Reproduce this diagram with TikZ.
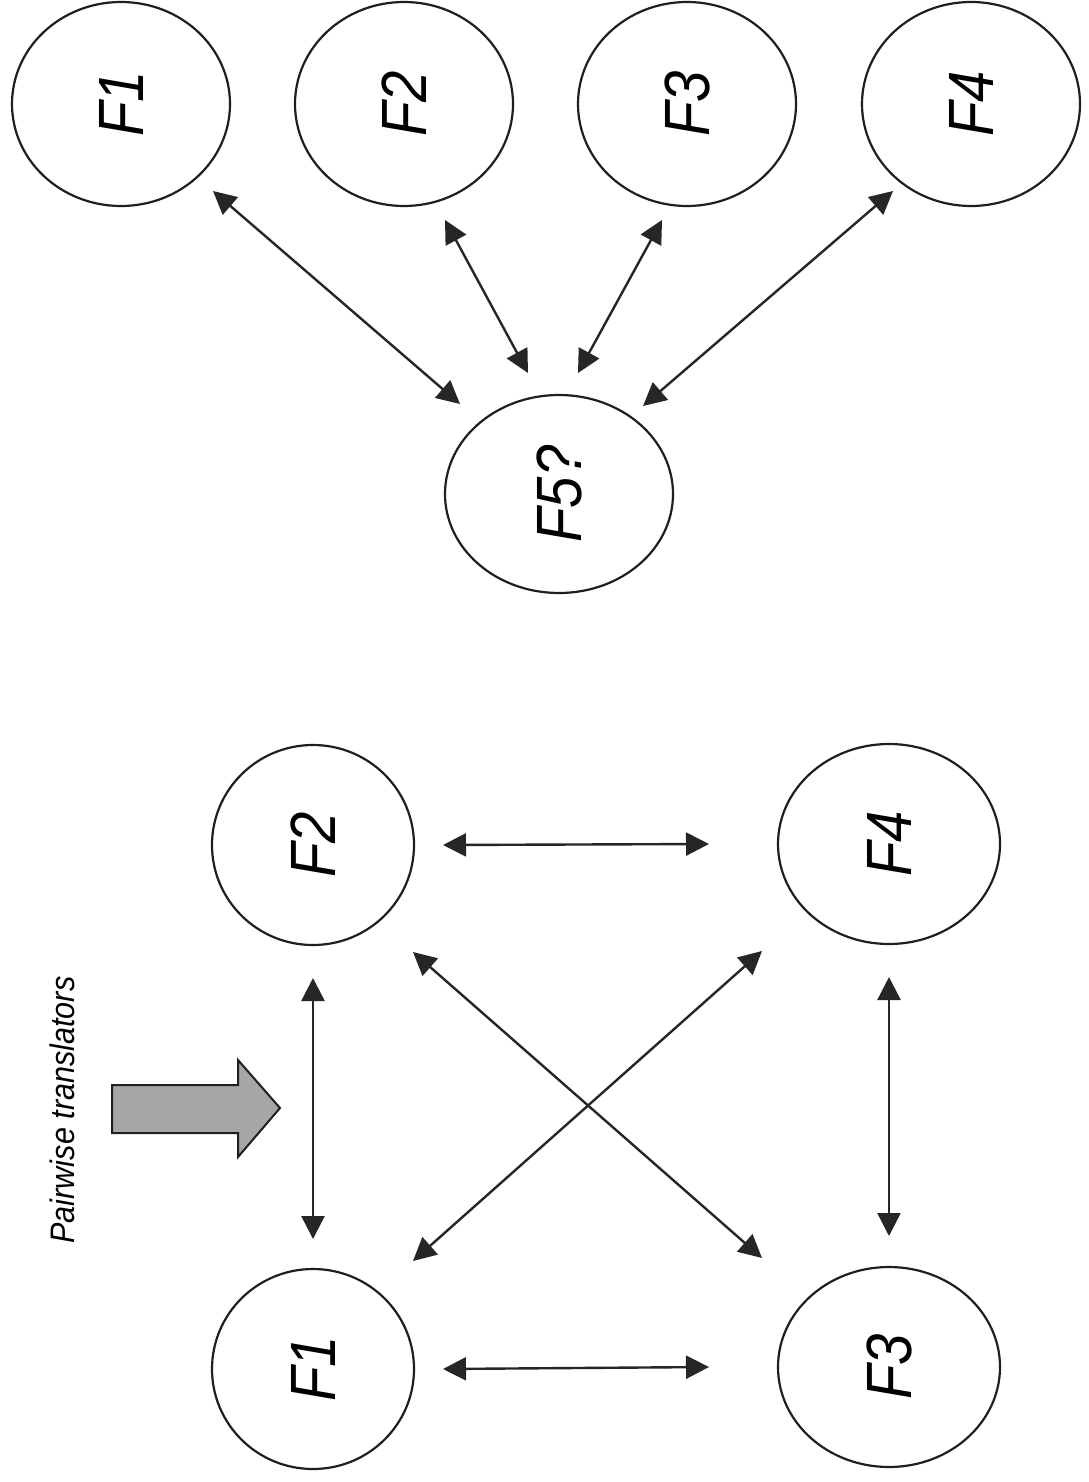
\documentclass[tikz,border=0pt]{standalone}
\usepackage{fontspec}
\setmainfont{Liberation Sans}
\usetikzlibrary{arrows.meta,shapes.geometric,calc}
\tikzset{
  fmt/.style={ellipse, draw=black!88, line width=2.2pt, inner sep=0pt, rotate=90,
    font=\fontsize{64}{64}\selectfont\itshape},
  biarrow/.style={draw=black!85, line width=2.4pt,
    {Triangle[length=23pt,width=23pt]}-{Triangle[length=23pt,width=23pt]}}
}
\newcommand{\lab}[1]{\scalebox{0.88}[1]{#1}}
\begin{document}
\begin{tikzpicture}[x=1pt,y=-1pt]
\useasboundingbox (0,0) rectangle (1088,1482);
\fill[white] (0,0) rectangle (1088,1482);
% top group
\node[fmt, minimum width=204pt, minimum height=218pt] (T1) at (121,104) {\lab{F1}};
\node[fmt, minimum width=204pt, minimum height=218pt] (T2) at (404,104) {\lab{F2}};
\node[fmt, minimum width=204pt, minimum height=218pt] (T3) at (687,104) {\lab{F3}};
\node[fmt, minimum width=204pt, minimum height=218pt] (T4) at (971,104) {\lab{F4}};
\node[fmt, minimum width=198pt, minimum height=228pt] (T5) at (559,494) {\lab{F5?}};
\coordinate (t1a) at ($(T1.center)+(92,87)$);
\coordinate (t1b) at ($(T5.center)+(-99,-90)$);
\coordinate (t2a) at ($(T2.center)+(41,116)$);
\coordinate (t2b) at ($(T5.center)+(-31,-121)$);
\coordinate (t3a) at ($(T3.center)+(-25,116)$);
\coordinate (t3b) at ($(T5.center)+(19,-121)$);
\coordinate (t4a) at ($(T4.center)+(-78,87)$);
\coordinate (t4b) at ($(T5.center)+(84,-88)$);
\draw[biarrow] (t1a) -- (t1b);
\draw[biarrow] (t2a) -- (t2b);
\draw[biarrow] (t3a) -- (t3b);
\draw[biarrow] (t4a) -- (t4b);
% bottom group
\node[fmt, minimum width=200pt, minimum height=202pt] (B1) at (313,1369) {\lab{F1}};
\node[fmt, minimum width=200pt, minimum height=202pt] (B2) at (313,845) {\lab{F2}};
\node[fmt, minimum width=200pt, minimum height=222pt] (B3) at (889,1367) {\lab{F3}};
\node[fmt, minimum width=200pt, minimum height=222pt] (B4) at (889,844) {\lab{F4}};
\coordinate (b12a) at ($(B1.center)+(0,-130)$);
\coordinate (b12b) at ($(B2.center)+(0,133)$);
\coordinate (b24a) at ($(B2.center)+(130,0)$);
\coordinate (b24b) at ($(B4.center)+(-180,0)$);
\coordinate (b43a) at ($(B4.center)+(0,133)$);
\coordinate (b43b) at ($(B3.center)+(0,-131)$);
\coordinate (b13a) at ($(B1.center)+(130,0)$);
\coordinate (b13b) at ($(B3.center)+(-180,0)$);
\coordinate (b23a) at ($(B2.center)+(100,107)$);
\coordinate (b23b) at ($(B3.center)+(-127,-109)$);
\coordinate (b41a) at ($(B4.center)+(-127,107)$);
\coordinate (b41b) at ($(B1.center)+(100,-108)$);
\draw[biarrow] (b12a) -- (b12b);
\draw[biarrow] (b24a) -- (b24b);
\draw[biarrow] (b43a) -- (b43b);
\draw[biarrow] (b13a) -- (b13b);
\draw[biarrow] (b23a) -- (b23b);
\draw[biarrow] (b41a) -- (b41b);
% big grey arrow
\draw[black!88, line width=2pt, fill=black!35]
  (112,1085) -- (238,1085) -- (238,1060) -- (280,1108) -- (238,1157)
  -- (238,1133) -- (112,1133) -- cycle;
\node[rotate=90, inner sep=0pt, font=\fontsize{34}{34}\selectfont\itshape] (cap) at (62,1110)
  {\scalebox{0.9}[1]{Pairwise translators}};
\end{tikzpicture}
\end{document}
